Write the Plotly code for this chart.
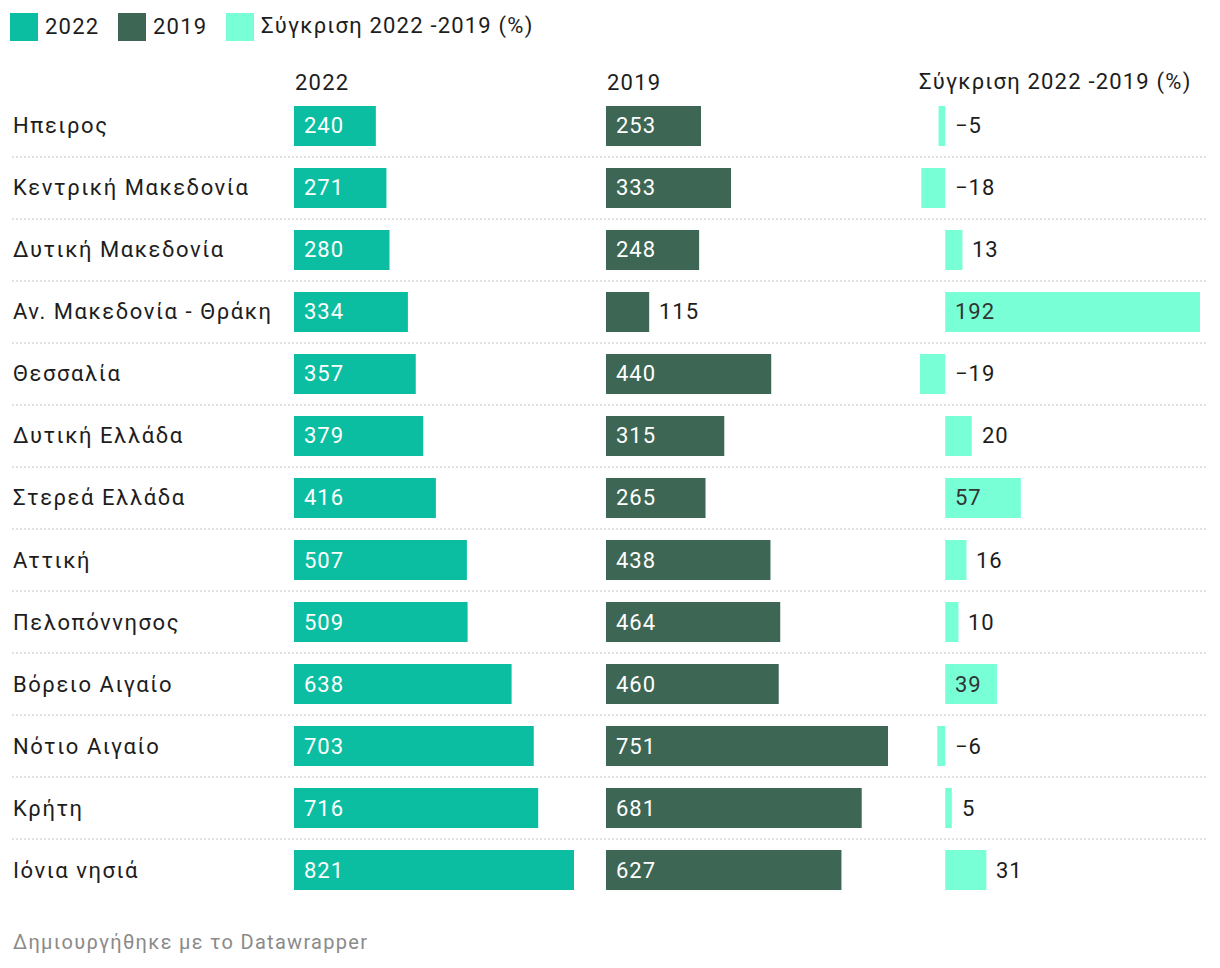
import plotly.graph_objects as go

# ---- data ----
regions = ["Ηπειρος", "Κεντρική Μακεδονία", "Δυτική Μακεδονία", "Αν. Μακεδονία - Θράκη",
           "Θεσσαλία", "Δυτική Ελλάδα", "Στερεά Ελλάδα", "Αττική", "Πελοπόννησος",
           "Βόρειο Αιγαίο", "Νότιο Αιγαίο", "Κρήτη", "Ιόνια νησιά"]
v2022 = [240, 271, 280, 334, 357, 379, 416, 507, 509, 638, 703, 716, 821]
v2019 = [253, 333, 248, 115, 440, 315, 265, 438, 464, 460, 751, 681, 627]
diff = [-5, -18, 13, 192, -19, 20, 57, 16, 10, 39, -6, 5, 31]
series_names = ["2022", "2019", "Σύγκριση 2022 -2019 (%)"]
footer = "Δημιουργήθηκε με το Datawrapper"

# ---- style ----
W, H = 1220, 968
OFF = 8  # page body margin
FW, FH = W - OFF, H - OFF
C1, C2, C3 = "#0bbea1", "#3d6654", "#79ffd6"
TXT = "#1d1d1d"
FONT = "Roboto"
FS = 22


def px(x):
    return (x - OFF) / FW


def py(y):
    return 1 - (y - OFF) / FH


def spaced(t, sp):
    return '<span style="letter-spacing:%.2fpx">%s</span>' % (sp, t)


cols = [
    dict(vals=v2022, color=C1, dom=(294, 574), rng=[0, max(v2022)], inside_col="#ffffff", ax="x"),
    dict(vals=v2019, color=C2, dom=(606, 888), rng=[0, max(v2019)], inside_col="#ffffff", ax="x2"),
    dict(vals=diff, color=C3, dom=(920, 1200), rng=[min(min(diff), 0), max(diff)], inside_col="#333333", ax="x3"),
]

fig = go.Figure()
annotations = []
shapes = []

for k, c in enumerate(cols):
    fig.add_trace(go.Bar(
        x=c["vals"], y=regions, orientation="h", xaxis=c["ax"], yaxis="y",
        marker=dict(color=c["color"], line=dict(width=0)), width=0.645,
        name=series_names[k], showlegend=False, hoverinfo="x+y",
    ))
    scale = (c["dom"][1] - c["dom"][0]) / (c["rng"][1] - c["rng"][0])
    for r, v in zip(regions, c["vals"]):
        label = str(v) if v >= 0 else "\u2212" + str(abs(v))
        tw = len(label) * 0.6 * FS
        bar_px = abs(v) * scale
        if v > 0 and bar_px >= tw + 20:
            annotations.append(dict(x=0, y=r, xref=c["ax"], yref="y", text=spaced(label, 1.0),
                                    xanchor="left", yanchor="middle", xshift=8, showarrow=False,
                                    font=dict(family=FONT, size=FS, color=c["inside_col"])))
        else:
            annotations.append(dict(x=max(v, 0), y=r, xref=c["ax"], yref="y", text=spaced(label, 1.0),
                                    xanchor="left", yanchor="middle", xshift=8, showarrow=False,
                                    font=dict(family=FONT, size=FS, color=TXT)))
    # column header
    annotations.append(dict(x=px(c["dom"][0] - (3 if k == 2 else 1)), y=py(82), xref="paper", yref="paper",
                            text=spaced(series_names[k], 1.2), xanchor="left", yanchor="middle",
                            showarrow=False, font=dict(family=FONT, size=FS, color=TXT)))

# category labels
for r in regions:
    annotations.append(dict(x=px(11), y=r, xref="paper", yref="y", text=spaced(r, 1.55), xanchor="left",
                            yanchor="middle", showarrow=False,
                            font=dict(family=FONT, size=FS, color=TXT)))

# separators
for i in range(len(regions) - 1):
    shapes.append(dict(type="line", xref="paper", yref="y", x0=px(12), x1=px(1208),
                       y0=i + 0.5, y1=i + 0.5, line=dict(color="#c4c4c4", width=1, dash="2px,2px")))

# legend
leg = [(10, 43), (118, 151), (226, 259)]
for (sx, tx), name, col in zip(leg, series_names, [C1, C2, C3]):
    shapes.append(dict(type="rect", xref="paper", yref="paper", x0=px(sx), x1=px(sx + 28),
                       y0=py(41), y1=py(13), fillcolor=col, line=dict(width=0)))
    annotations.append(dict(x=px(tx), y=py(26), xref="paper", yref="paper", text=spaced(name, 1.2),
                            xanchor="left", yanchor="middle", showarrow=False,
                            font=dict(family=FONT, size=FS, color=TXT)))

# footer
annotations.append(dict(x=px(11), y=py(942), xref="paper", yref="paper", text=spaced(footer, 1.3),
                        xanchor="left", yanchor="middle", showarrow=False,
                        font=dict(family=FONT, size=20, color="#8a8a8a")))

axis_common = dict(showgrid=False, zeroline=False, showticklabels=False, showline=False, ticks="")
fig.update_layout(
    width=FW, height=FH, margin=dict(l=0, r=0, t=0, b=0),
    paper_bgcolor="white", plot_bgcolor="white", barmode="overlay",
    showlegend=False,
    xaxis=dict(domain=[px(cols[0]["dom"][0]), px(cols[0]["dom"][1])], range=cols[0]["rng"], anchor="y", **axis_common),
    xaxis2=dict(domain=[px(cols[1]["dom"][0]), px(cols[1]["dom"][1])], range=cols[1]["rng"], anchor="y", **axis_common),
    xaxis3=dict(domain=[px(cols[2]["dom"][0]), px(cols[2]["dom"][1])], range=cols[2]["rng"], anchor="y", **axis_common),
    yaxis=dict(domain=[py(901), py(95)], range=[len(regions) - 0.5, -0.5], type="category",
               categoryorder="array", categoryarray=regions, **axis_common),
    annotations=annotations, shapes=shapes,
    font=dict(family=FONT, size=FS, color=TXT),
)

fig.write_html("out.html")
